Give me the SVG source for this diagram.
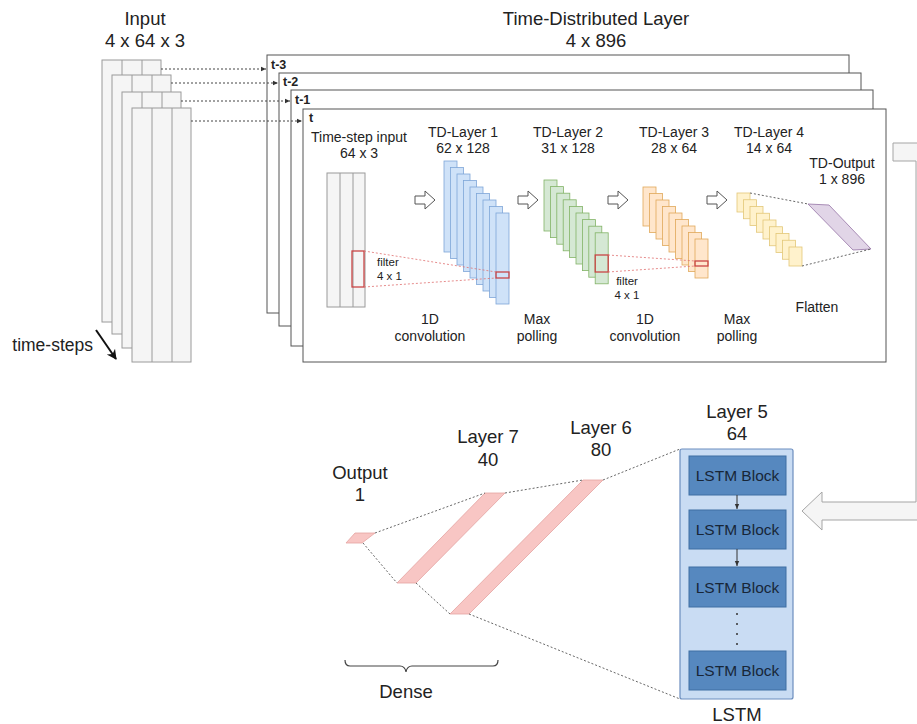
<svg xmlns="http://www.w3.org/2000/svg" width="917" height="724" viewBox="0 0 917 724">
<defs>
<style>
text{font-family:"Liberation Sans",Arial,sans-serif;fill:#222}
.big{font-size:18.5px}
.mid{font-size:14px}
.sm{font-size:14px}
.xs{font-size:11.5px}
.bold{font-weight:bold;font-size:12.5px}
.sheet{fill:#f5f5f5;stroke:#9a9a9a;stroke-width:1}
.div{stroke:#9a9a9a;stroke-width:1}
.frame{fill:#fff;stroke:#555;stroke-width:1}
.blue{fill:#cfe2f8;stroke:#7ea6d8;stroke-width:0.8}
.green{fill:#d5e8d4;stroke:#82b366;stroke-width:0.8}
.orange{fill:#ffe6cc;stroke:#e0a95a;stroke-width:0.8}
.yellow{fill:#fff2cc;stroke:#e3c778;stroke-width:0.8}
.purple{fill:#e1d5e7;stroke:#9673a6;stroke-width:0.8}
.pink{fill:#f8c6c4;stroke:#e4a3a1;stroke-width:0.8}
.redbox{fill:none;stroke:#c94545;stroke-width:1.3}
.redline{stroke:#e07070;stroke-width:0.8;stroke-dasharray:2 2;fill:none}
.dot{stroke:#444;stroke-width:1;stroke-dasharray:2 2;fill:none}
.gdot{stroke:#555;stroke-width:0.9;stroke-dasharray:2 2;fill:none}
.barrow{fill:#fff;stroke:#555;stroke-width:1}
.lstmc{fill:#c9dcf3;stroke:#6c8ebf;stroke-width:1.2}
.lblock{fill:#5688bf;stroke:#3f6fa3;stroke-width:1}
.ltext{font-size:15.5px;fill:#182638}
</style>
<marker id="ah" markerWidth="6" markerHeight="6" refX="5" refY="3" orient="auto" markerUnits="userSpaceOnUse">
<path d="M0,0.8 L5,3 L0,5.2 Z" fill="#333"/>
</marker>
<marker id="bh" markerWidth="12" markerHeight="12" refX="9" refY="6" orient="auto" markerUnits="userSpaceOnUse">
<path d="M0,1 L10,6 L0,11 L3,6 Z" fill="#111"/>
</marker>
</defs>
<rect width="917" height="724" fill="#fff"/>

<!-- Input -->
<g id="input">
<text class="big" x="145" y="25" text-anchor="middle">Input</text>
<text class="big" x="145" y="47" text-anchor="middle">4 x 64 x 3</text>
<rect class="sheet" x="102" y="60" width="59" height="262"/>
<line class="div" x1="122" y1="60" x2="122" y2="322"/><line class="div" x1="142" y1="60" x2="142" y2="322"/>
<rect class="sheet" x="112" y="75" width="59" height="259"/>
<line class="div" x1="132" y1="75" x2="132" y2="334"/><line class="div" x1="152" y1="75" x2="152" y2="334"/>
<rect class="sheet" x="122" y="92" width="59" height="256"/>
<line class="div" x1="142" y1="92" x2="142" y2="348"/><line class="div" x1="162" y1="92" x2="162" y2="348"/>
<rect class="sheet" x="132" y="108" width="59" height="254"/>
<line class="div" x1="152" y1="108" x2="152" y2="362"/><line class="div" x1="172" y1="108" x2="172" y2="362"/>
</g>
<g id="time-steps">
<text x="93" y="351" text-anchor="end" style="font-size:17.5px">time-steps</text>
<line x1="96" y1="330" x2="116" y2="359" stroke="#111" stroke-width="2" marker-end="url(#bh)"/>
</g>

<!-- Time-distributed frames -->
<g id="td-layer">
<text class="big" x="596" y="25" text-anchor="middle">Time-Distributed Layer</text>
<text class="big" x="596" y="47" text-anchor="middle">4 x 896</text>
<rect class="frame" x="267" y="55" width="582" height="258"/>
<text class="bold" x="271" y="69">t-3</text>
<rect class="frame" x="279" y="73" width="582" height="253"/>
<text class="bold" x="283" y="86">t-2</text>
<rect class="frame" x="291" y="90" width="582" height="256"/>
<text class="bold" x="295" y="104">t-1</text>
<rect class="frame" x="303" y="109" width="583" height="253"/>
<text class="bold" x="309" y="122">t</text>
</g>

<!-- inside t frame -->
<g id="timestep-input">
<text class="sm" x="359" y="142" text-anchor="middle">Time-step input</text>
<text class="sm" x="359" y="158" text-anchor="middle">64 x 3</text>
<rect class="sheet" x="327" y="173" width="38" height="134"/>
<line class="div" x1="340" y1="173" x2="340" y2="307"/><line class="div" x1="353" y1="173" x2="353" y2="307"/>
<rect class="redbox" x="352" y="251" width="12" height="36"/>
<text class="xs" x="377" y="266">filter</text>
<text class="xs" x="377" y="280">4 x 1</text>
</g>

<g id="td-layer-1">
<text class="sm" x="463" y="137" text-anchor="middle">TD-Layer 1</text>
<text class="sm" x="463" y="153" text-anchor="middle">62 x 128</text>
<rect class="blue" x="444" y="161" width="13" height="91"/>
<rect class="blue" x="450.5" y="167.5" width="13" height="91"/>
<rect class="blue" x="457" y="174" width="13" height="91"/>
<rect class="blue" x="463.5" y="180.5" width="13" height="91"/>
<rect class="blue" x="470" y="187" width="13" height="91"/>
<rect class="blue" x="476.5" y="193.5" width="13" height="91"/>
<rect class="blue" x="483" y="200" width="13" height="91"/>
<rect class="blue" x="489.5" y="206.5" width="13" height="91"/>
<rect class="blue" x="496" y="213" width="13" height="91"/>
<rect class="redbox" x="496" y="272" width="13" height="6"/>
</g>

<g id="td-layer-2">
<text class="sm" x="568" y="137" text-anchor="middle">TD-Layer 2</text>
<text class="sm" x="568" y="153" text-anchor="middle">31 x 128</text>
<rect class="green" x="544" y="180" width="13" height="51"/>
<rect class="green" x="550.4" y="186.6" width="13" height="51"/>
<rect class="green" x="556.8" y="193.2" width="13" height="51"/>
<rect class="green" x="563.2" y="199.8" width="13" height="51"/>
<rect class="green" x="569.6" y="206.4" width="13" height="51"/>
<rect class="green" x="576" y="213" width="13" height="51"/>
<rect class="green" x="582.4" y="219.6" width="13" height="51"/>
<rect class="green" x="588.8" y="226.2" width="13" height="51"/>
<rect class="green" x="595.2" y="232.8" width="13" height="51"/>
<rect class="redbox" x="595.2" y="255" width="13" height="17"/>
<text class="xs" x="627" y="285" text-anchor="middle">filter</text>
<text class="xs" x="627" y="299" text-anchor="middle">4 x 1</text>
</g>

<g id="td-layer-3">
<text class="sm" x="674" y="137" text-anchor="middle">TD-Layer 3</text>
<text class="sm" x="674" y="153" text-anchor="middle">28 x 64</text>
<rect class="orange" x="643" y="187" width="13" height="39"/>
<rect class="orange" x="649.5" y="193.5" width="13" height="39"/>
<rect class="orange" x="656" y="200" width="13" height="39"/>
<rect class="orange" x="662.5" y="206.5" width="13" height="39"/>
<rect class="orange" x="669" y="213" width="13" height="39"/>
<rect class="orange" x="675.5" y="219.5" width="13" height="39"/>
<rect class="orange" x="682" y="226" width="13" height="39"/>
<rect class="orange" x="688.5" y="232.5" width="13" height="39"/>
<rect class="orange" x="695" y="239" width="13" height="39"/>
<rect class="redbox" x="695" y="261" width="13" height="5"/>
</g>

<g id="td-layer-4">
<text class="sm" x="769" y="137" text-anchor="middle">TD-Layer 4</text>
<text class="sm" x="769" y="153" text-anchor="middle">14 x 64</text>
<rect class="yellow" x="737" y="193" width="13" height="19"/>
<rect class="yellow" x="743.5" y="199.75" width="13" height="19"/>
<rect class="yellow" x="750" y="206.5" width="13" height="19"/>
<rect class="yellow" x="756.5" y="213.25" width="13" height="19"/>
<rect class="yellow" x="763" y="220" width="13" height="19"/>
<rect class="yellow" x="769.5" y="226.75" width="13" height="19"/>
<rect class="yellow" x="776" y="233.5" width="13" height="19"/>
<rect class="yellow" x="782.5" y="240.25" width="13" height="19"/>
<rect class="yellow" x="789" y="247" width="13" height="19"/>
</g>

<g id="td-output">
<text class="sm" x="842" y="168" text-anchor="middle">TD-Output</text>
<text class="sm" x="842" y="184" text-anchor="middle">1 x 896</text>
<polygon class="purple" points="808,204 829,205 871,249 853,250"/>
<text class="sm" x="817" y="312" text-anchor="middle">Flatten</text>
</g>

<g id="op-labels">
<text class="mid" x="430" y="324" text-anchor="middle">1D</text>
<text class="mid" x="430" y="341" text-anchor="middle">convolution</text>
<text class="mid" x="537" y="324" text-anchor="middle">Max</text>
<text class="mid" x="537" y="341" text-anchor="middle">polling</text>
<text class="mid" x="645" y="324" text-anchor="middle">1D</text>
<text class="mid" x="645" y="341" text-anchor="middle">convolution</text>
<text class="mid" x="737" y="324" text-anchor="middle">Max</text>
<text class="mid" x="737" y="341" text-anchor="middle">polling</text>
</g>

<!-- Bottom: LSTM and dense -->
<g id="lstm">
<text class="big" x="737" y="418" text-anchor="middle">Layer 5</text>
<text class="big" x="737" y="440" text-anchor="middle">64</text>
<rect class="lstmc" x="680" y="449" width="113" height="250" rx="2"/>
<rect class="lblock" x="689" y="456" width="97" height="39"/>
<text class="ltext" x="737.5" y="481" text-anchor="middle">LSTM Block</text>
<rect class="lblock" x="689" y="510" width="97" height="39"/>
<text class="ltext" x="737.5" y="535" text-anchor="middle">LSTM Block</text>
<rect class="lblock" x="689" y="567" width="97" height="40"/>
<text class="ltext" x="737.5" y="593" text-anchor="middle">LSTM Block</text>
<rect class="lblock" x="689" y="651" width="97" height="39"/>
<text class="ltext" x="737.5" y="676" text-anchor="middle">LSTM Block</text>
<circle cx="737" cy="614" r="1" fill="#333"/>
<circle cx="737" cy="624" r="1" fill="#333"/>
<circle cx="737" cy="634" r="1" fill="#333"/>
<circle cx="737" cy="644" r="1" fill="#333"/>
<text class="big" x="737" y="721" text-anchor="middle">LSTM</text>
</g>

<g id="layer-6">
<text class="big" x="601" y="434" text-anchor="middle">Layer 6</text>
<text class="big" x="601" y="456" text-anchor="middle">80</text>
<polygon class="pink" points="583,480 603,480 469,614 450,614"/>
</g>
<g id="layer-7">
<text class="big" x="488" y="443" text-anchor="middle">Layer 7</text>
<text class="big" x="488" y="466" text-anchor="middle">40</text>
<polygon class="pink" points="485,493 505,493 416,583 397,583"/>
</g>
<g id="output">
<text class="big" x="360" y="479" text-anchor="middle">Output</text>
<text class="big" x="360" y="501" text-anchor="middle">1</text>
<polygon class="pink" points="355,533 375,533 362,543 346,543"/>
</g>
<g id="dense">
<path d="M345,660 Q345,666 350,666 L400,666 Q405,666 406,672 Q407,666 412,666 L493,666 Q498,666 498,660" fill="none" stroke="#444" stroke-width="1.2"/>
<text class="big" x="406" y="698" text-anchor="middle">Dense</text>
</g>

<!-- connectors -->
<g id="connectors">
<line class="dot" x1="161" y1="69" x2="266" y2="69" marker-end="url(#ah)"/>
<line class="dot" x1="171" y1="83" x2="278" y2="83" marker-end="url(#ah)"/>
<line class="dot" x1="181" y1="101" x2="290" y2="101" marker-end="url(#ah)"/>
<line class="dot" x1="191" y1="121" x2="302" y2="121" marker-end="url(#ah)"/>

<path class="barrow" d="M415,196 H425 V191 L435,200 L425,209 V204 H415 Z"/>
<path class="barrow" d="M518,196 H528 V191 L538,200 L528,209 V204 H518 Z"/>
<path class="barrow" d="M608,196 H618 V191 L628,200 L618,209 V204 H608 Z"/>
<path class="barrow" d="M707,196 H717 V191 L727,200 L717,209 V204 H707 Z"/>

<line class="redline" x1="364" y1="251" x2="496" y2="272"/>
<line class="redline" x1="364" y1="287" x2="496" y2="278"/>
<line class="redline" x1="608" y1="255" x2="695" y2="261"/>
<line class="redline" x1="608" y1="272" x2="695" y2="266"/>

<line class="gdot" x1="750" y1="193" x2="808" y2="204"/>
<line class="gdot" x1="802" y1="266" x2="871" y2="249"/>

<path d="M893,143 H935 V520 H822 V530 L802,511 L822,492 V502 H916 V161 H893 Z" fill="#f5f5f5" stroke="#a5a5a5" stroke-width="1"/>

<line x1="737" y1="495" x2="737" y2="509" stroke="#333" stroke-width="1" marker-end="url(#ah)"/>
<line x1="737" y1="549" x2="737" y2="566" stroke="#333" stroke-width="1" marker-end="url(#ah)"/>

<line class="gdot" x1="375" y1="533" x2="485" y2="493"/>
<line class="gdot" x1="363" y1="543" x2="397" y2="583"/>
<line class="gdot" x1="505" y1="493" x2="583" y2="480"/>
<line class="gdot" x1="416" y1="583" x2="450" y2="614"/>
<line class="gdot" x1="603" y1="480" x2="680" y2="449"/>
<line class="gdot" x1="469" y1="614" x2="680" y2="699"/>
</g>
</svg>
